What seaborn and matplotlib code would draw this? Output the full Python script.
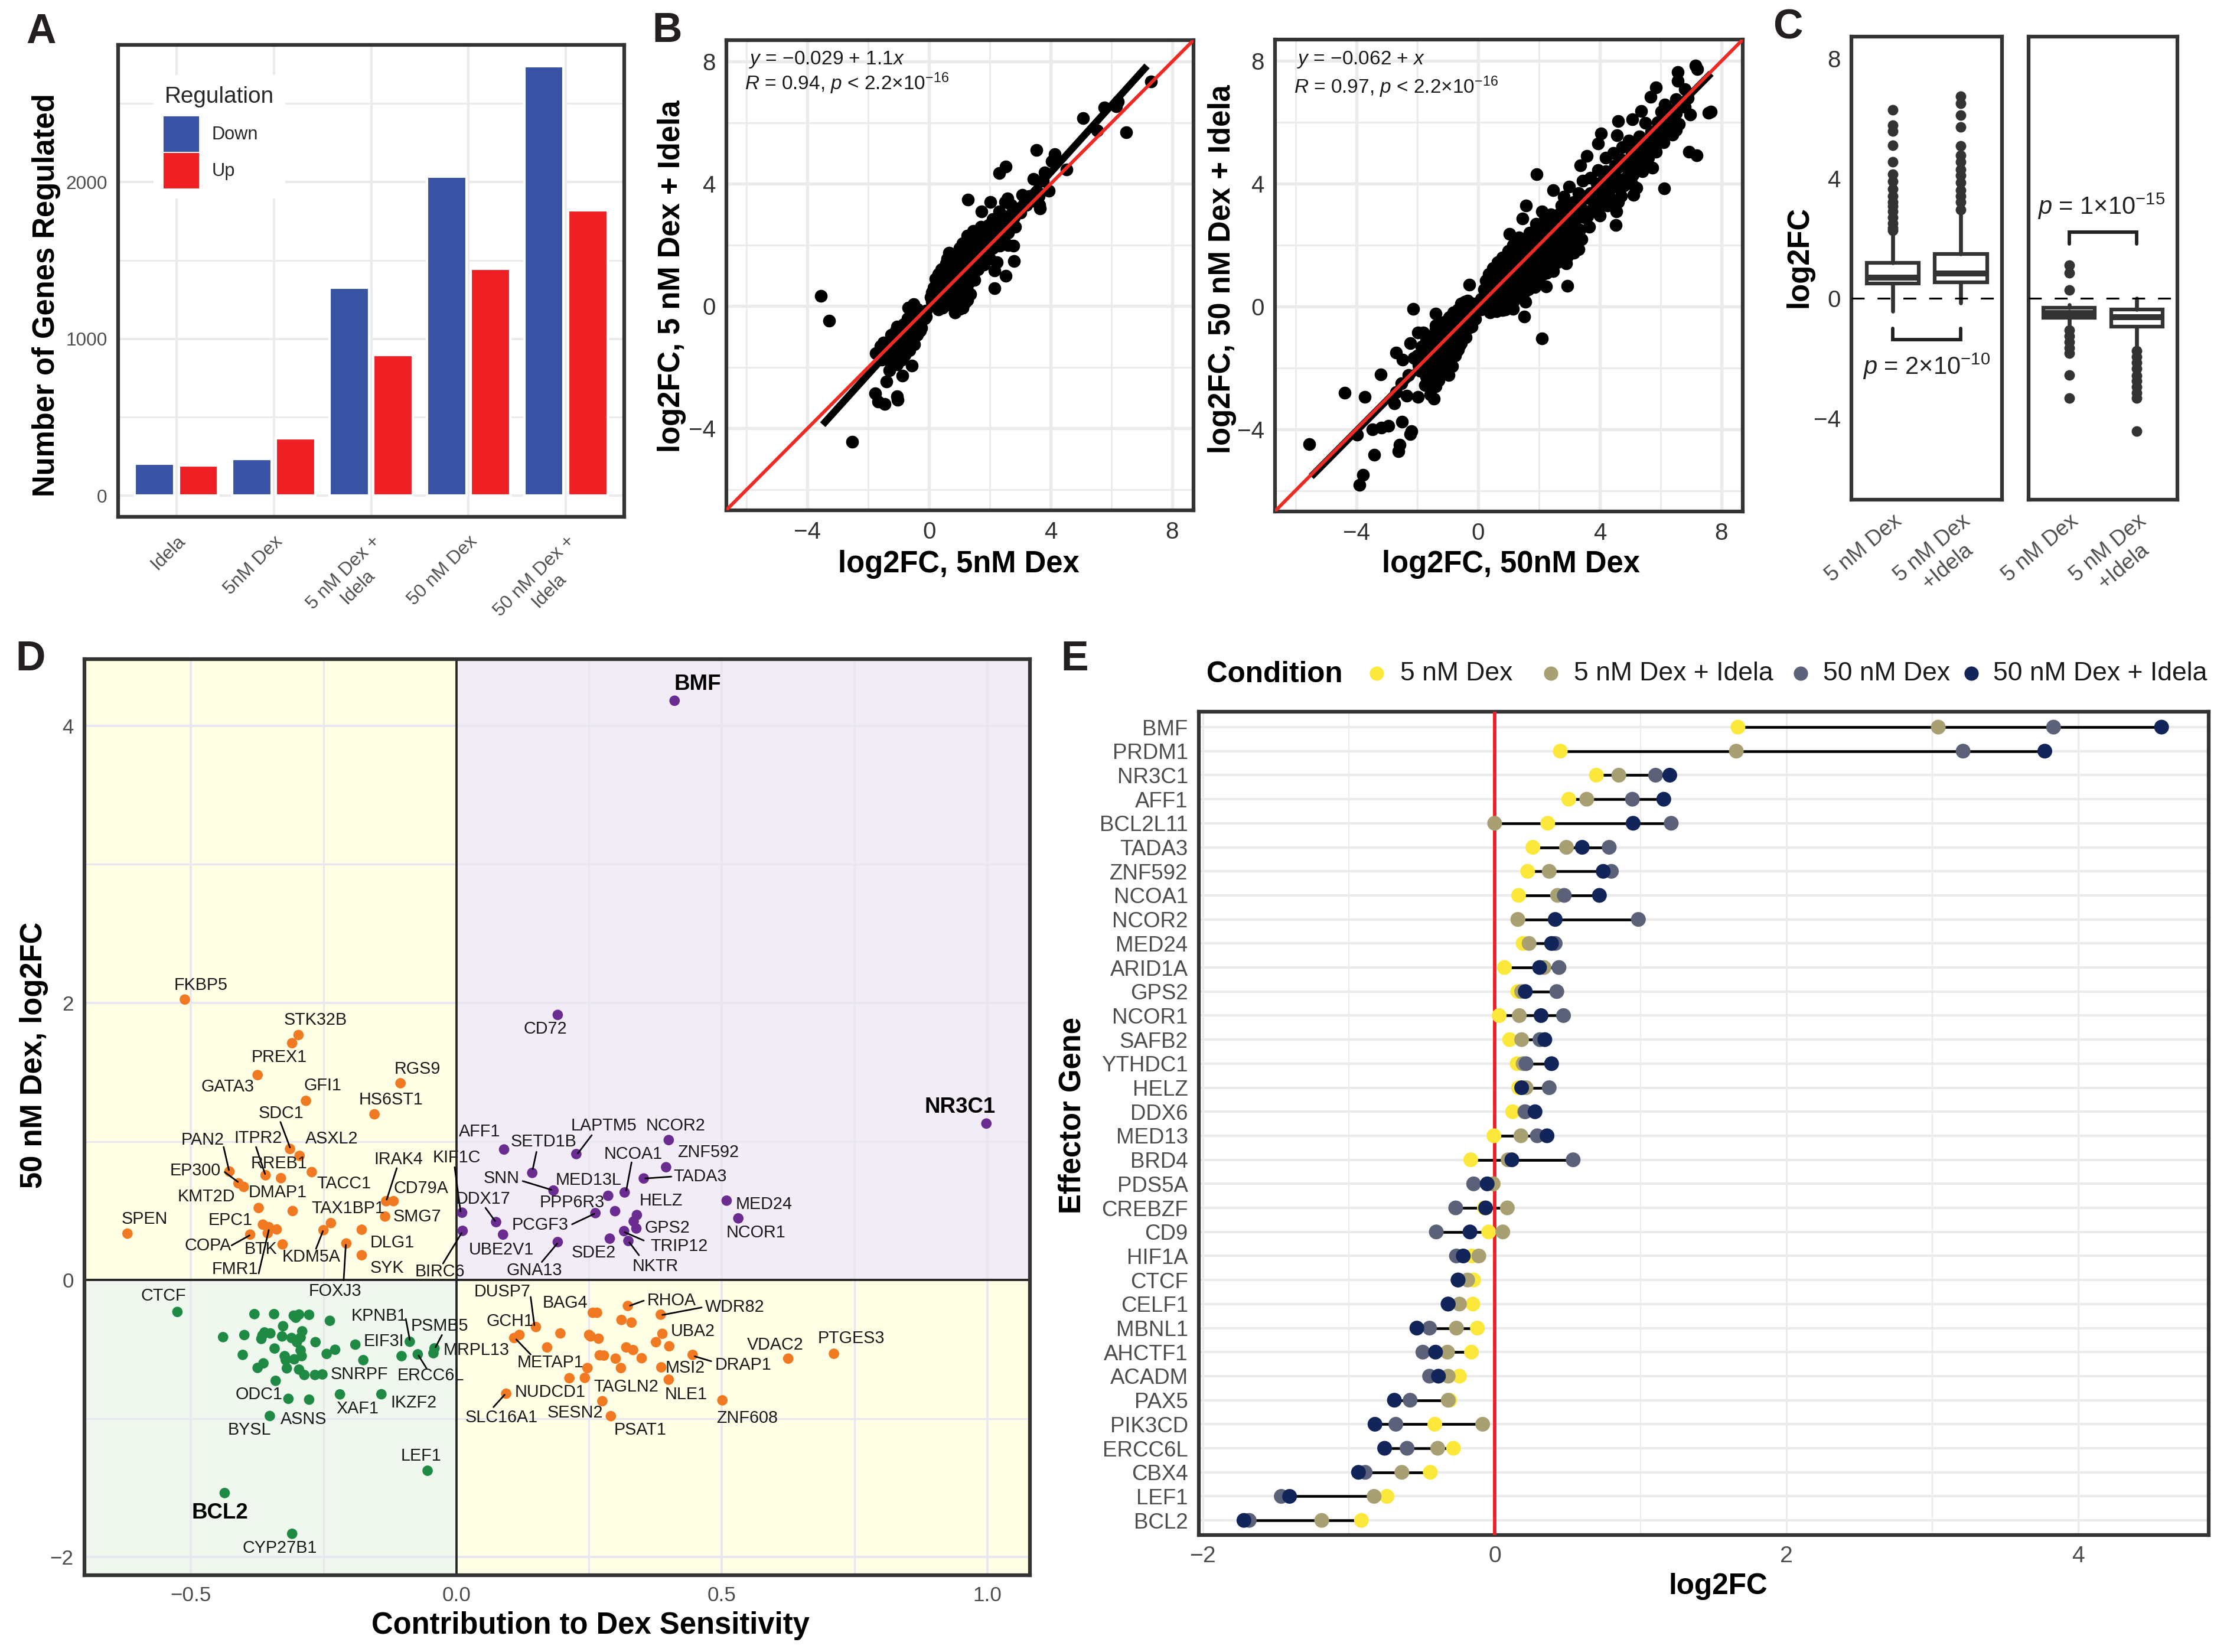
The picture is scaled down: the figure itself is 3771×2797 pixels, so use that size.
import matplotlib
matplotlib.use("Agg")
import matplotlib.pyplot as plt
import numpy as np
import pandas as pd
import seaborn as sns
from matplotlib.lines import Line2D
from matplotlib.patches import Patch, Rectangle

# -------- panel A --------
a_conditions = ["Idela", "5nM Dex", "5 nM Dex +\nIdela", "50 nM Dex", "50 nM Dex +\nIdela"]
a_down = [204, 235, 1327, 2035, 2739]
a_up = [192, 366, 895, 1445, 1821]

# -------- panel B --------
b1_x = [-3.56, -3.28, -2.53, 7.3, 6.48, 5.07, 5.77, 6.16, 6.22, 5.54, 3.53, 4.14, 4.04, 4.53, 2.52, 2.3, 3.81, 3.44, 3.94,
        3.63, 3.65, 1.28, 2.02, 1.72, 2.58, 3.07, 2.83, 2.77, 2.8, 2.52, 2.15, 2.23, 2.15, 2.33,
        -1.77, -1.68, -1.47, -1.06, -1.04, -1.4, -1.31, -0.88, -0.57, -1.68, -1.49, -1.06, -0.69, -0.51, 0.3, 0.85, 1.1,
        -1.75, -1.6, -1.55, -1.5, -1.45, -1.4, -1.35, -1.3, -1.25, -1.2, -1.2, -1.15, -1.1, -1.1, -1.05, -1, -1, -1, -0.95,
        -0.9, -0.9, -0.9, -0.85, -0.8, -0.8, -0.8, -0.75, -0.7, -0.7, -0.7, -0.65, -0.6, -0.6, -0.55, -0.5, -0.5, -0.45,
        -0.4, -0.4, -0.35, -0.3, -0.3, -0.25, -0.2, -0.15, -0.1,
        0.05, 0.1, 0.15, 0.2, 0.2, 0.25, 0.3, 0.3, 0.35, 0.4, 0.4, 0.45, 0.45, 0.5, 0.5, 0.55, 0.55, 0.6, 0.6, 0.65, 0.65,
        0.7, 0.7, 0.75, 0.8, 0.8, 0.8, 0.85, 0.85, 0.9, 0.9, 0.95, 1, 1, 1, 1.05, 1.05, 1.1, 1.1, 1.1, 1.15, 1.2, 1.2, 1.25,
        1.25, 1.3, 1.3, 1.35, 1.35, 1.4, 1.45, 1.5, 1.5, 1.55, 1.6, 1.65, 1.7, 1.7, 1.8, 1.85, 1.9, 1.95, 2.0, 2.05, 2.1,
        2.2, 2.25, 2.3, 2.4, 2.45, 2.5, 2.6, 2.6, 2.7, 2.8, 2.6, 2.9, 3.1, 3.3, 3.55,
        -1.65, -1.4, -1.3, -1.15, -1.05, -1.05, -0.95, -0.85, -0.85, -0.75, -0.7, -0.65, -0.55, -0.55, -0.45, -0.35, -0.35,
        -0.25, -0.2, -0.1,
        0.1, 0.15, 0.25, 0.3, 0.35, 0.4, 0.4, 0.45, 0.5, 0.55, 0.55, 0.6, 0.6, 0.65, 0.7, 0.7, 0.75, 0.75, 0.8, 0.85, 0.85,
        0.9, 0.9, 0.95, 0.95, 1, 1, 1.05, 1.05, 1.1, 1.1, 1.15, 1.15, 1.2, 1.2, 1.25, 1.25, 1.3, 1.35, 1.35, 1.4, 1.4, 1.45,
        1.5, 1.55, 1.6, 1.6, 1.7, 1.75, 1.8, 1.9, 2.0, 2.1, 2.15, 2.3, 2.4, 2.5, 2.7, 3.0, 3.2, 3.4, 3.6, 3.75]
b1_y = [0.33, -0.47, -4.44, 7.35, 5.69, 6.14, 6.5, 6.54, 6.7, 5.74, 5.11, 4.98, 4.73, 4.47, 4.56, 4.36, 4.38, 4.16, 3.77,
        3.31, 3.2, 3.48, 3.4, 3.09, 3.52, 3.64, 2.59, 1.98, 1.48, 0.99, 1.17, 1.44, 0.58, 1.98,
        -2.86, -3.12, -3.21, -2.96, -3.06, -2.47, -2.1, -2.28, -1.94, -1.52, -1.23, -0.68, -0.06, 0.06, -0.12, -0.21, -0.06,
        -1.55, -1.3, -1.75, -1.2, -1.45, -1.7, -1.2, -1.5, -0.95, -1.3, -1.7, -1.05, -1.45, -0.8, -1.9, -1.15, -1.6, -0.75, -1.4,
        -0.95, -1.2, -1.75, -0.6, -1.0, -1.4, -1.6, -0.75, -1.2, -0.4, -0.95, -1.45, -0.6, -1.0, -0.3, -0.8, -1.25, -0.5,
        -0.95, -0.1, -0.6, -0.3, -0.8, -0.5, -0.2, -0.4, -0.15,
        0.3, 0.15, 0.6, 0.3, 0.9, 0.05, 0.5, 1.05, 0.2, 0.75, 1.2, -0.05, 0.45, 1.0, 0.25, 1.4, 0.65, 0.05, 1.2, 0.4, 1.75,
        0.85, 1.5, 0.2, 1.15, 0.6, 1.7, -0.2, 0.35, 0.95, 1.45, 0.05, 0.6, 1.25, 1.9, 0.25, 1.6, -0.05, 0.9, 2.05, 0.45, 1.3, 1.75, 0.2,
        2.3, 0.75, 1.5, 0.4, 2.0, 1.1, 2.45, 0.85, 1.7, 2.2, 1.2, 1.5, 2.0, 2.6, 1.35, 1.75, 2.3, 2.65, 1.55, 2.1, 2.85,
        2.45, 2.0, 3.1, 2.7, 2.2, 3.4, 2.95, 2.4, 3.3, 2.9, 2.0, 3.2, 3.3, 3.6, 3.75,
        -1.6, -1.3, -1.8, -1.5, -1.3, -0.95, -1.7, -1.45, -1.1, -1.1, -0.7, -1.1, -0.55, -1.05, -0.8, -0.35, -0.85,
        -0.7, -0.35, -0.35,
        0.45, 0.2, 0.7, 0.25, 0.85, 0.05, 0.45, 1.05, 0.6, 0.1, 0.9, 0.4, 1.55, 1.05, 0.15, 0.6, 1.3, 1.65, 0.35, 0.8, 1.5,
        0.2, 1.2, 0.55, 1.7, 0.9, -0.1, 1.4, 0.45, 1.15, 1.8, 0.7, 1.5, 0.15, 1.0, 1.95, 0.5, 1.25, 0.85, 1.65, 1.4, 2.2, 1.0,
        1.9, 1.4, 1.75, 2.3, 1.35, 1.7, 2.2, 1.85, 2.4, 1.9, 2.3, 2.55, 2.95, 2.6, 2.7, 3.05, 3.3, 3.45, 3.6, 4.1]
b1_fit_x = [-3.5, 7.17]

b2_x = [-5.54, -4.38, -3.72, -3.19, -2.69, -2.48, -2.12, -1.39, -0.28, -3.9, -3.78, -3.4, -2.61, -2.57, -2.22, -2.18, -2.49,
        -2.95, -3.17, -3.46, -3.97, -2.75, -2.69, -2.34, -1.98, -1.45, -1.57, -1.39, -1.74, -2.51, -2.28, -0.97, -0.91, -2.22,
        -1.98, -1.8, -2.1, -1.39,
        -2.0, -1.9, -1.85, -1.8, -1.7, -1.7, -1.65, -1.6, -1.55, -1.5, -1.5, -1.5, -1.45, -1.4, -1.4, -1.35, -1.3, -1.3, -1.25,
        -1.25, -1.2, -1.2, -1.15, -1.1, -1.1, -1.1, -1.05, -1, -1, -1, -0.95, -0.95, -0.9, -0.85, -0.85, -0.85, -0.8, -0.8,
        -0.75, -0.75, -0.7, -0.7, -0.65, -0.65, -0.6, -0.6, -0.55, -0.55, -0.5, -0.5, -0.45, -0.4, -0.4, -0.4, -0.35, -0.3, -0.3,
        -0.25, -0.2, -0.2, -0.15, -0.1, -0.1, -0.05,
        7.15, 7.21, 6.56, 6.56, 6.8, 5.85, 5.67, 6.97, 7.57, 7.65, 6.94, 7.19, 6.11, 5.37, 5.08, 5.49, 4.6, 4.05, 4.57, 3.95, 4.96,
        3.57, 3.36, 1.93, 2.47, 3.0, 1.58, 1.46, 2.11, 1.04, 2.82, 5.73, 5.55, 5.31, 5.85, 5.2, 5.11, 4.6, 4.54, 4.52, 4.01, 3.59,
        4.25, 3.3, 2.94, 2.94, 2.23, 1.52, 1.55, 2.11, 1.16, 0.81, 0.39, 2.47, 1.87, 6.26, 6.38, 6.03, 6.14, 6.5, 5.91,
        0.1, 0.15, 0.2, 0.25, 0.3, 0.3, 0.35, 0.4, 0.45, 0.5, 0.5, 0.55, 0.6, 0.6, 0.65, 0.7, 0.75, 0.75, 0.8, 0.85, 0.9, 0.9, 0.95,
        1, 1, 1, 1.05, 1.1, 1.15, 1.15, 1.2, 1.25, 1.3, 1.3, 1.35, 1.4, 1.45, 1.5, 1.5, 1.55, 1.6, 1.65, 1.7, 1.75, 1.8, 1.85, 1.9,
        1.95, 2, 2, 2.05, 2.15, 2.2, 2.25, 2.3, 2.35, 2.4, 2.5, 2.5, 2.55, 2.6, 2.7, 2.75, 2.8, 2.85, 2.9, 3, 3.05, 3.1, 3.15, 3.2,
        3.25, 3.3, 3.35, 3.4, 3.45, 3.5, 3.6, 3.7, 3.75, 3.85, 3.95, 4.05, 4.1, 4.2, 4.3, 4.35, 4.45, 4.55, 4.6, 4.7, 4.75, 4.85,
        4.9, 5, 5.05, 5.15, 5.25, 5.3, 5.4, 5.5, 5.6, 5.7, 5.8, 5.9, 6, 6.1, 6.2, 6.3, 6.4, 6.5, 6.6, 6.7, 6.9,
        -1.95, -1.8, -1.75, -1.6, -1.55, -1.4, -1.35, -1.25, -1.2, -1.15, -1.05, -1, -0.95, -0.9, -0.9, -0.8, -0.75, -0.7, -0.65,
        -0.6, -0.6, -0.55, -0.5, -0.5, -0.45, -0.4, -0.35, -0.3, -0.25, -0.2, -0.15,
        0.05, 0.1, 0.2, 0.25, 0.35, 0.35, 0.4, 0.45, 0.5, 0.55, 0.6, 0.65, 0.7, 0.7, 0.75, 0.8, 0.85, 0.85, 0.9, 0.95, 0.95, 1,
        1.05, 1.05, 1.1, 1.1, 1.15, 1.2, 1.2, 1.25, 1.3, 1.35, 1.35, 1.4, 1.4, 1.45, 1.5, 1.55, 1.6, 1.6, 1.65, 1.7, 1.75, 1.8,
        1.85, 1.9, 1.95, 2, 2.05, 2.1, 2.15, 2.2, 2.3, 2.35, 2.4, 2.45, 2.55, 2.6, 2.65, 2.7, 2.8, 2.85, 2.95, 3, 3.05, 3.15, 3.2,
        3.3, 3.4, 3.45, 3.55, 3.65, 3.7, 3.8, 3.9, 4, 4.1, 4.2, 4.3, 4.4, 4.5, 4.55, 4.7, 4.8, 4.95, 5.05, 5.1, 5.25, 5.35, 5.5,
        5.6, 5.75, 5.85, 6, 6.1, 6.25, 6.4, 6.5, 6.6, 6.8]
b2_y = [-4.48, -2.81, -2.94, -2.21, -1.5, -1.73, -0.08, -0.24, 0.71, -5.81, -5.49, -4.83, -4.72, -4.51, -4.15, -4.07, -3.75,
        -3.88, -3.94, -4.0, -4.18, -3.15, -2.8, -2.91, -2.94, -3.0, -2.86, -2.6, -2.56, -2.5, -2.24, -2.24, -1.97, -1.2,
        -0.85, -0.85, -1.68, -0.61,
        -1.6, -2.1, -1.3, -1.75, -2.3, -1.1, -1.5, -2.0, -2.5, -0.95, -1.3, -1.75, -2.2, -0.75, -1.5, -1.1, -1.95, -2.4, -0.6,
        -1.35, -1.7, -0.95, -2.15, -0.5, -1.25, -1.55, -1.9, -0.75, -1.1, -2.1, -0.35, -1.4, -1.7, -0.6, -1.0, -1.95, -0.2, -1.3,
        -0.85, -1.6, -0.4, -1.1, -0.1, -1.4, -0.65, -0.95, 0.1, -1.2, -0.35, -0.75, 0.15, -0.15, -1.0, -0.55, 0.2, -0.3, -0.7,
        0.05, -0.15, -0.5, 0.1, -0.2, -0.4, -0.1,
        7.86, 7.74, 7.65, 7.35, 7.09, 7.15, 6.84, 6.25, 6.32, 6.35, 5.05, 4.93, 3.85, 6.37, 6.11, 5.99, 6.05, 5.64, 5.58, 5.31, 5.4,
        4.91, 4.6, 4.31, 3.79, 3.91, 3.3, 2.87, 3.1, 2.37, 3.58, 4.52, 4.76, 4.58, 5.05, 3.87, 3.63, 3.4, 3.1, 2.65, 2.96, 2.95,
        3.3, 1.86, 1.63, 0.68, 0.65, -0.32, 0.15, -1.04, -0.08, -0.12, -0.2, 1.16, 0.63, 5.99, 5.76, 6.35, 6.58, 6.76, 5.4,
        0.25, 0.05, 0.55, 0.85, -0.1, 0.3, 1.05, 0.6, 0.1, 0.9, 1.25, 0.35, -0.15, 0.7, 1.45, 1.05, 0.2, 0.5, 1.6, 0.85, 1.3, -0.1, 0.4,
        1.1, 1.8, 0.7, 0.1, 1.45, 2.0, 0.9, 0.35, 1.2, 1.75, 0.65, 2.25, 1.0, 1.5, 0.45, 2.15, 1.25, 0.8, 1.85, 2.4, 1.45, 1.05, 2.1, 2.7,
        1.6, 0.95, 2.35, 1.3, 2.0, 2.85, 1.1, 1.65, 2.5, 3.0, 1.4, 2.15, 2.9, 1.75, 2.5, 3.3, 1.95, 2.95, 1.4, 2.3, 3.35, 2.7, 1.75, 3.1,
        2.1, 3.7, 2.5, 3.2, 4.1, 2.9, 3.55, 4.2, 3.1, 3.75, 4.45, 3.5, 4.1, 4.85, 3.7, 4.3, 5.0, 3.9, 4.55, 3.6, 5.2, 4.2,
        4.75, 5.3, 4.0, 4.6, 5.05, 5.55, 4.4, 5.15, 4.85, 5.7, 5.3, 6.0, 5.55, 6.25, 5.7, 6.4, 6.1, 5.75, 6.5, 6.6, 6.8,
        -1.9, -1.4, -2.0, -1.65, -1.15, -1.9, -1.35, -1.75, -1.2, -0.8, -1.3, -1.75, -0.95, -1.3, -0.6, -0.75, -1.15, -1.45, -0.6,
        -0.3, -1.25, -0.85, -0.15, -1.0, -0.4, -0.75, -0.1, -0.5, -0.25, -0.65, -0.3,
        0.1, -0.1, 0.15, 0.45, 0.7, 0.0, 0.3, 0.9, 0.55, 1.1, 0.3, 0.85, 0.5, 1.3, 0.05, 0.75, 1.15, 0.3, 0.6, 1.5, 0.95, 0.15,
        1.25, 0.5, 0.85, 1.65, 0.15, 1.4, 0.6, 1.85, 1.05, 0.35, 1.45, 0.75, 2.1, 1.15, 1.75, 0.9, 1.45, 2.2, 0.55, 1.15, 1.85, 1.45,
        0.85, 2.3, 1.25, 1.85, 2.6, 1.55, 1.05, 2.3, 1.95, 1.35, 2.7, 1.75, 2.35, 1.45, 3.0, 2.0, 2.7, 2.25, 3.1, 1.95, 2.6, 3.4, 2.4,
        2.9, 2.2, 3.6, 3.1, 2.6, 3.7, 3.35, 4.0, 3.3, 3.75, 4.4, 4.05, 3.45, 4.6, 4.2, 4.8, 3.95, 4.45, 5.0, 4.3, 4.75, 5.3, 4.6,
        5.45, 5.05, 5.6, 5.9, 5.35, 6.15, 5.6, 6.3, 5.95, 6.5]
b2_fit_x = [-5.48, 7.66]

# -------- panel C --------
c_ticklabels = ["5 nM Dex", "5 nM Dex\n+Idela"]
c1_q1 = [0.5, 0.53]
c1_med = [0.69, 0.82]
c1_q3 = [1.19, 1.47]
c1_lo = [-0.44, -0.15]
c1_hi = [2.2, 2.82]
c1_fliers = [[6.27, 5.77, 5.58, 5.1, 4.55, 4.14, 3.9, 3.65, 3.4, 3.2, 3.07, 2.89, 2.7, 2.5, 2.35, 2.26],
             [6.74, 6.49, 6.11, 5.71, 5.08, 4.77, 4.55, 4.3, 4.1, 3.85, 3.6, 3.4, 3.2, 2.95]]
c2_q1 = [-0.65, -0.94]
c2_med = [-0.5, -0.63]
c2_q3 = [-0.31, -0.38]
c2_lo = [-0.88, -1.69]
c2_hi = [-0.21, 0.0]
c2_fliers = [[1.1, 0.84, 0.28, -1.07, -1.25, -1.45, -1.65, -1.82, -2.55, -3.32],
             [-1.76, -1.95, -2.15, -2.35, -2.57, -2.76, -2.95, -3.15, -3.32, -4.43]]

# -------- panel D --------
d_ul_x = [-0.511, -0.297, -0.309, -0.374, -0.105, -0.283, -0.154, -0.313, -0.295, -0.272, -0.33, -0.359, -0.427, -0.41,
          -0.40, -0.372, -0.308, -0.132, -0.118, -0.134, -0.236, -0.25, -0.178, -0.207, -0.178, -0.327, -0.364, -0.353,
          -0.338, -0.355, -0.388, -0.619]
d_ul_y = [2.024, 1.768, 1.709, 1.479, 1.42, 1.293, 1.196, 0.946, 0.896, 0.779, 0.735, 0.756, 0.783, 0.698,
          0.672, 0.52, 0.498, 0.569, 0.569, 0.458, 0.411, 0.36, 0.363, 0.264, 0.179, 0.257, 0.40, 0.382,
          0.365, 0.338, 0.328, 0.335]
d_ll_x = [-0.525, -0.38, -0.343, -0.306, -0.296, -0.302, -0.277, -0.238, -0.326, -0.29, -0.361, -0.35, -0.365, -0.367,
          -0.399, -0.439, -0.328, -0.31, -0.293, -0.30, -0.265, -0.19, -0.0875, -0.228, -0.244, -0.342, -0.293, -0.291,
          -0.323, -0.321, -0.305, -0.402, -0.175, -0.103, -0.0725, -0.041, -0.043, -0.363, -0.374, -0.319, -0.296, -0.286,
          -0.266, -0.252, -0.34, -0.219, -0.141, -0.316, -0.277, -0.351, -0.054, -0.436, -0.309]
d_ll_y = [-0.23, -0.246, -0.246, -0.257, -0.249, -0.272, -0.251, -0.294, -0.333, -0.37, -0.378, -0.385, -0.40, -0.425,
          -0.397, -0.412, -0.407, -0.418, -0.415, -0.448, -0.448, -0.466, -0.445, -0.503, -0.533, -0.494, -0.507, -0.549,
          -0.549, -0.578, -0.572, -0.54, -0.578, -0.549, -0.536, -0.493, -0.528, -0.601, -0.634, -0.637, -0.646, -0.685,
          -0.685, -0.681, -0.727, -0.825, -0.824, -0.857, -0.863, -0.981, -1.376, -1.537, -1.831]
d_ur_x = [0.411, 0.191, 0.998, 0.40, 0.09, 0.226, 0.395, 0.143, 0.353, 0.183, 0.317, 0.286, 0.509, 0.299, 0.262, 0.34,
          0.334, 0.339, 0.531, 0.011, 0.075, 0.088, 0.012, 0.191, 0.289, 0.316, 0.324]
d_ur_y = [4.18, 1.913, 1.129, 1.01, 0.942, 0.909, 0.814, 0.773, 0.733, 0.646, 0.632, 0.608, 0.573, 0.497, 0.483, 0.469,
          0.423, 0.372, 0.445, 0.486, 0.418, 0.328, 0.355, 0.274, 0.299, 0.353, 0.282]
d_lr_x = [0.323, 0.385, 0.257, 0.265, 0.311, 0.33, 0.15, 0.196, 0.119, 0.109, 0.25, 0.253, 0.268, 0.388, 0.376, 0.401,
          0.171, 0.32, 0.333, 0.27, 0.278, 0.30, 0.349, 0.445, 0.625, 0.711, 0.247, 0.31, 0.386, 0.213, 0.242, 0.40,
          0.094, 0.275, 0.501, 0.291]
d_lr_y = [-0.187, -0.25, -0.236, -0.236, -0.288, -0.307, -0.339, -0.385, -0.396, -0.418, -0.396, -0.407, -0.423, -0.388,
          -0.448, -0.478, -0.486, -0.486, -0.505, -0.543, -0.545, -0.567, -0.564, -0.54, -0.567, -0.532, -0.635, -0.635,
          -0.63, -0.708, -0.706, -0.719, -0.82, -0.874, -0.868, -0.982]

d_labels = [("FKBP5", -0.481, 2.127), ("STK32B", -0.265, 1.878), ("PREX1", -0.333, 1.606), ("GATA3", -0.43, 1.393),
            ("GFI1", -0.252, 1.403), ("RGS9", -0.073, 1.523), ("HS6ST1", -0.123, 1.299), ("SDC1", -0.33, 1.201),
            ("PAN2", -0.477, 1.01), ("ITPR2", -0.373, 1.024), ("ASXL2", -0.234, 1.02), ("IRAK4", -0.109, 0.871),
            ("KIF1C", 0.001, 0.882), ("RREB1", -0.334, 0.84), ("EP300", -0.491, 0.791), ("TACC1", -0.212, 0.694),
            ("CD79A", -0.066, 0.661), ("DMAP1", -0.336, 0.633), ("KMT2D", -0.47, 0.601), ("TAX1BP1", -0.204, 0.516),
            ("SMG7", -0.073, 0.455), ("EPC1", -0.425, 0.431), ("SPEN", -0.587, 0.438), ("COPA", -0.467, 0.247),
            ("BTK", -0.368, 0.221), ("DLG1", -0.121, 0.271), ("KDM5A", -0.273, 0.169), ("FMR1", -0.417, 0.077),
            ("SYK", -0.13, 0.087), ("BIRC6", -0.031, 0.062), ("FOXJ3", -0.228, -0.082), ("CTCF", -0.551, -0.115),
            ("KPNB1", -0.146, -0.257), ("PSMB5", -0.031, -0.331), ("EIF3I", -0.136, -0.443), ("MRPL13", 0.038, -0.507),
            ("SNRPF", -0.182, -0.679), ("ERCC6L", -0.048, -0.691), ("ODC1", -0.371, -0.827), ("XAF1", -0.186, -0.928),
            ("IKZF2", -0.08, -0.885), ("ASNS", -0.287, -1.003), ("BYSL", -0.389, -1.082), ("LEF1", -0.066, -1.269),
            ("CYP27B1", -0.332, -1.933), ("CD72", 0.168, 1.813), ("AFF1", 0.044, 1.072), ("LAPTM5", 0.278, 1.113),
            ("NCOR2", 0.413, 1.113), ("SETD1B", 0.165, 0.999), ("NCOA1", 0.333, 0.909), ("ZNF592", 0.474, 0.923),
            ("TADA3", 0.459, 0.746), ("SNN", 0.085, 0.735), ("MED13L", 0.249, 0.722), ("DDX17", 0.051, 0.583),
            ("PPP6R3", 0.218, 0.559), ("HELZ", 0.385, 0.573), ("MED24", 0.579, 0.548), ("PCGF3", 0.158, 0.396),
            ("GPS2", 0.397, 0.374), ("NCOR1", 0.564, 0.342), ("TRIP12", 0.42, 0.244), ("UBE2V1", 0.085, 0.22),
            ("SDE2", 0.259, 0.198), ("NKTR", 0.375, 0.10), ("GNA13", 0.147, 0.071), ("DUSP7", 0.087, -0.084),
            ("RHOA", 0.405, -0.147), ("BAG4", 0.205, -0.166), ("WDR82", 0.524, -0.195), ("GCH1", 0.101, -0.299),
            ("UBA2", 0.445, -0.372), ("PTGES3", 0.744, -0.421), ("VDAC2", 0.601, -0.467), ("METAP1", 0.177, -0.597),
            ("DRAP1", 0.54, -0.613), ("MSI2", 0.431, -0.632), ("NUDCD1", 0.177, -0.809), ("TAGLN2", 0.32, -0.771),
            ("NLE1", 0.433, -0.825), ("SESN2", 0.224, -0.958), ("SLC16A1", 0.085, -0.99), ("ZNF608", 0.548, -0.996),
            ("PSAT1", 0.346, -1.083)]
d_bold_labels = [("BMF", 0.454, 4.30), ("NR3C1", 0.948, 1.248), ("BCL2", -0.445, -1.682)]
d_leaders = [(-0.331, 1.14, -0.313, 0.956), (-0.438, 0.96, -0.428, 0.793), (-0.377, 0.96, -0.36, 0.765),
             (-0.436, 0.779, -0.411, 0.708), (-0.112, 0.807, -0.131, 0.58), (-0.423, 0.25, -0.389, 0.322),
             (-0.372, 0.048, -0.353, 0.36), (-0.264, 0.226, -0.251, 0.353), (-0.212, -0.001, -0.208, 0.254),
             (-0.025, 0.119, 0.01, 0.339), (-0.003, 0.814, 0.008, 0.495), (-0.095, -0.281, -0.0875, -0.433),
             (-0.027, -0.397, -0.039, -0.485), (-0.071, -0.545, -0.056, -0.637), (0.255, 1.045, 0.229, 0.914),
             (0.151, 0.925, 0.144, 0.80), (0.125, 0.714, 0.179, 0.651), (0.33, 0.849, 0.32, 0.646),
             (0.405, 0.746, 0.356, 0.733), (0.055, 0.521, 0.073, 0.426), (0.218, 0.402, 0.26, 0.478),
             (0.161, 0.13, 0.19, 0.263), (0.353, 0.285, 0.317, 0.345), (0.344, 0.179, 0.326, 0.271),
             (0.14, -0.122, 0.147, -0.326), (0.353, -0.149, 0.327, -0.185), (0.462, -0.198, 0.388, -0.252),
             (0.14, -0.537, 0.113, -0.429), (0.48, -0.586, 0.449, -0.551), (0.07, -0.917, 0.091, -0.828)]

# -------- panel E --------
e_genes = ["BMF", "PRDM1", "NR3C1", "AFF1", "BCL2L11", "TADA3", "ZNF592", "NCOA1", "NCOR2", "MED24", "ARID1A", "GPS2",
           "NCOR1", "SAFB2", "YTHDC1", "HELZ", "DDX6", "MED13", "BRD4", "PDS5A", "CREBZF", "CD9", "HIF1A", "CTCF",
           "CELF1", "MBNL1", "AHCTF1", "ACADM", "PAX5", "PIK3CD", "ERCC6L", "CBX4", "LEF1", "BCL2"]
e_5 = [1.667, 0.45, 0.697, 0.508, 0.364, 0.262, 0.226, 0.164, 0.159, 0.195, 0.067, 0.159, 0.031, 0.103, 0.154, 0.164,
       0.123, -0.005, -0.164, -0.01, -0.07, -0.041, -0.154, -0.144, -0.149, -0.118, -0.159, -0.241, -0.308, -0.41,
       -0.282, -0.441, -0.738, -0.913]
e_5i = [3.04, 1.656, 0.851, 0.631, 0.0, 0.492, 0.374, 0.431, 0.159, 0.236, 0.338, 0.185, 0.169, 0.185, 0.195, 0.215,
        0.205, 0.18, 0.092, -0.01, 0.087, 0.056, -0.108, -0.185, -0.241, -0.262, -0.323, -0.318, -0.318, -0.082,
        -0.39, -0.636, -0.826, -1.185]
e_50 = [3.83, 3.21, 1.103, 0.944, 1.21, 0.785, 0.80, 0.477, 0.985, 0.415, 0.441, 0.426, 0.472, 0.31, 0.215, 0.374,
        0.21, 0.292, 0.538, -0.144, -0.267, -0.40, -0.262, -0.25, -0.32, -0.446, -0.492, -0.446, -0.579, -0.677,
        -0.6, -0.887, -1.462, -1.682]
e_50i = [4.57, 3.77, 1.2, 1.159, 0.949, 0.60, 0.744, 0.718, 0.415, 0.39, 0.308, 0.21, 0.318, 0.344, 0.39, 0.185,
         0.277, 0.359, 0.118, -0.051, -0.062, -0.169, -0.215, -0.251, -0.318, -0.533, -0.405, -0.385, -0.687, -0.82,
         -0.754, -0.933, -1.405, -1.718]
e_conditions = ["5 nM Dex", "5 nM Dex + Idela", "50 nM Dex", "50 nM Dex + Idela"]

# -------- styling --------
W, H = 3771, 2797
DARK = "#333333"
TICK = "#4D4D4D"
GRID = "#EBEBEB"
RED = "#EE2024"
E_COLORS = ["#FBE83A", "#A89F72", "#5A6178", "#12255A"]

sns.set_theme(style="white")
plt.rcParams["font.family"] = ["Liberation Sans", "DejaVu Sans"]
plt.rcParams["mathtext.fontset"] = "custom"
plt.rcParams["mathtext.rm"] = "Liberation Sans"
plt.rcParams["mathtext.it"] = "Liberation Sans:italic"
plt.rcParams["mathtext.bf"] = "Liberation Sans:bold"

fig = plt.figure(figsize=(W / 300, H / 300), dpi=300, facecolor="white")


def axes_px(left, top, right, bottom):
    ax = fig.add_axes([left / W, 1 - bottom / H, (right - left) / W, (bottom - top) / H])
    for spine in ax.spines.values():
        spine.set_linewidth(1.5)
        spine.set_color(DARK)
    ax.tick_params(length=2.4, width=1.1, color=DARK, labelcolor=TICK, pad=2)
    ax.set_xlabel("")
    ax.set_ylabel("")
    return ax


def text_px(x, y, s, **kw):
    kw.setdefault("ha", "center")
    kw.setdefault("va", "center")
    kw.setdefault("color", "black")
    fig.text(x / W, 1 - y / H, s, **kw)


def bold_label(x, y, s, rotation=0, size=12.2):
    # the box of the text includes the descender, nudge it onto the glyphs
    if rotation:
        x += 5
    else:
        y += 3
    text_px(x, y, s, fontweight="bold", fontsize=size, rotation=rotation)


# -------- A: bars --------
ax = axes_px(200, 76, 1057, 875)
a_df = pd.DataFrame({
    "condition": a_conditions * 2,
    "count": a_down + a_up,
    "Regulation": ["Down"] * 5 + ["Up"] * 5,
})
sns.barplot(data=a_df, x="condition", y="count", hue="Regulation", hue_order=["Down", "Up"],
            palette={"Down": "#3953A4", "Up": RED}, order=a_conditions, width=0.9, gap=0.1,
            saturation=1, legend=False, ax=ax)
ax.set_xlim(-0.6, 4.6)
ax.set_ylim(-135, 2874)
ax.set_yticks([0, 1000, 2000])
ax.set_yticks([500, 1500, 2500], minor=True)
ax.tick_params(which="minor", length=0)
ax.set_axisbelow(True)
ax.grid(which="major", color=GRID, lw=1.0)
ax.grid(which="minor", color=GRID, lw=0.7)
ax.set_xlabel("")
ax.set_ylabel("")
ax.tick_params(axis="y", labelsize=7.6)
ax.tick_params(axis="x", pad=4)
ax.set_xticks(range(5))
ax.set_xticklabels(a_conditions, rotation=45, ha="right", va="top", rotation_mode="anchor",
                   fontsize=7.6, multialignment="center")
leg = ax.legend(handles=[Patch(color="#3953A4", label="Down"), Patch(color=RED, label="Up")],
                title="Regulation", loc="upper left", bbox_to_anchor=(0.07, 0.936), borderaxespad=0,
                frameon=True, facecolor="white", edgecolor="none", framealpha=1, fancybox=False,
                fontsize=7.4, title_fontsize=9.3, handlelength=1.82, handleheight=2.41, labelspacing=0.2,
                handletextpad=0.77, borderpad=0.62)
leg._legend_box.align = "left"
leg._legend_box.sep = 4
bold_label(74, 500, "Number of Genes Regulated", rotation=90)


# -------- B: scatter panels --------
def scatter_panel(box, xs, ys, fit_x, intercept, slope, eq, stats, eq_pos, stats_pos):
    ax = axes_px(*box)
    sns.scatterplot(x=xs, y=ys, color="black", s=27, linewidth=0, ax=ax, zorder=3)
    fit_y = [intercept + slope * v for v in fit_x]
    ax.plot(fit_x, fit_y, color="black", lw=2.9, solid_capstyle="butt", zorder=4)
    ax.axline((0, 0), slope=1, color="#EE2A24", lw=1.4, zorder=5)
    ax.set_xlim(-6.67, 8.7)
    ax.set_ylim(-6.68, 8.7)
    ax.set_xticks([-4, 0, 4, 8])
    ax.set_yticks([-4, 0, 4, 8])
    ax.set_xticks([-6, -2, 2, 6], minor=True)
    ax.set_yticks([-6, -2, 2, 6], minor=True)
    ax.tick_params(which="minor", length=0)
    ax.tick_params(axis="both", labelsize=9.7, labelcolor=DARK)
    ax.set_axisbelow(True)
    ax.grid(which="major", color=GRID, lw=1.3)
    ax.grid(which="minor", color=GRID, lw=0.7)
    ax.text(*eq_pos, eq, fontsize=8, color="#1A1A1A", ha="left", va="center")
    ax.text(*stats_pos, stats, fontsize=8, color="#1A1A1A", ha="left", va="center")
    return ax


scatter_panel((1230, 68, 2021, 864), b1_x, b1_y, b1_fit_x, -0.029, 1.1,
              r"$\mathit{y}$ = −0.029 + 1.1$\mathit{x}$",
              r"$\mathit{R}$ = 0.94, $\mathit{p}$ < 2.2×10$^{−16}$", (-5.94, 8.06), (-6.06, 7.28))
scatter_panel((2159, 67, 2951, 866), b2_x, b2_y, b2_fit_x, -0.062, 1.0,
              r"$\mathit{y}$ = −0.062 + $\mathit{x}$",
              r"$\mathit{R}$ = 0.97, $\mathit{p}$ < 2.2×10$^{−16}$", (-5.95, 8.04), (-6.05, 7.15))
bold_label(1623, 952, "log2FC, 5nM Dex")
bold_label(1133, 468, "log2FC, 5 nM Dex + Idela", rotation=90)
bold_label(2558, 952, "log2FC, 50nM Dex")
bold_label(2064, 456, "log2FC, 50 nM Dex + Idela", rotation=90)


# -------- C: box panels --------
def box_panel(box, q1, med, q3, lo, hi, fliers, bracket, p_text, p_y, p_x, show_y):
    ax = axes_px(*box)
    stats = [{"q1": q1[i], "med": med[i], "q3": q3[i], "whislo": lo[i], "whishi": hi[i], "fliers": fliers[i]}
             for i in range(2)]
    ax.bxp(stats, positions=[0, 1], widths=0.76, patch_artist=True, showcaps=False, manage_ticks=False,
           boxprops={"facecolor": "white", "edgecolor": DARK, "linewidth": 1.5},
           medianprops={"color": DARK, "linewidth": 2.4, "solid_capstyle": "butt"},
           whiskerprops={"color": DARK, "linewidth": 1.6},
           flierprops={"marker": "o", "markerfacecolor": DARK, "markeredgecolor": DARK, "markersize": 4.3,
                       "markeredgewidth": 0})
    ax.axhline(0, color="black", lw=0.75, dashes=(7, 7), zorder=6)
    ax.plot([0, 0, 1, 1], bracket, color="#222222", lw=1.4, solid_joinstyle="miter")
    ax.text(p_x, p_y, p_text, fontsize=10, color="#222222", ha="center", va="center")
    ax.set_xlim(-0.6, 1.6)
    ax.set_ylim(-6.71, 8.72)
    ax.set_yticks([-4, 0, 4, 8])
    ax.tick_params(axis="y", labelsize=9.7, labelcolor=DARK, labelleft=show_y)
    ax.set_xticks([0, 1])
    ax.set_xticklabels(c_ticklabels, rotation=40, ha="right", va="top", rotation_mode="anchor", fontsize=8.8,
                       multialignment="center")
    return ax


box_panel((3135, 62, 3390, 846), c1_q1, c1_med, c1_q3, c1_lo, c1_hi, c1_fliers, [-1.0, -1.38, -1.38, -1.0],
          r"$\mathit{p}$ = 2×10$^{−10}$", -2.26, 0.5, True)
box_panel((3435, 62, 3687, 846), c2_q1, c2_med, c2_q3, c2_lo, c2_hi, c2_fliers, [1.82, 2.2, 2.2, 1.82],
          r"$\mathit{p}$ = 1×10$^{−15}$", 3.07, 0.474, False)
bold_label(3042, 435, "log2FC", rotation=90)

# -------- D: quadrant scatter --------
ax = axes_px(143, 1116, 1744, 2667)
XL, XR, YB, YT = -0.70, 1.08, -2.13, 4.48
ax.add_patch(Rectangle((XL, 0), -XL, YT, color="#FFFFE5", lw=0, zorder=0))
ax.add_patch(Rectangle((0, 0), XR, YT, color="#F1ECF5", lw=0, zorder=0))
ax.add_patch(Rectangle((XL, YB), -XL, -YB, color="#EFF7EE", lw=0, zorder=0))
ax.add_patch(Rectangle((0, YB), XR, -YB, color="#FFFFE5", lw=0, zorder=0))
d_df = pd.concat([
    pd.DataFrame({"x": d_ul_x, "y": d_ul_y, "group": "ul"}),
    pd.DataFrame({"x": d_lr_x, "y": d_lr_y, "group": "lr"}),
    pd.DataFrame({"x": d_ur_x, "y": d_ur_y, "group": "ur"}),
    pd.DataFrame({"x": d_ll_x, "y": d_ll_y, "group": "ll"}),
])
sns.scatterplot(data=d_df, x="x", y="y", hue="group",
                palette={"ul": "#F07922", "lr": "#F07922", "ur": "#6A2C91", "ll": "#1F8A44"},
                s=18, linewidth=0, legend=False, ax=ax, zorder=3)
ax.set_xlim(XL, XR)
ax.set_ylim(YB, YT)
ax.set_xlabel("")
ax.set_ylabel("")
ax.set_xticks([-0.5, 0, 0.5, 1.0])
ax.set_yticks([-2, 0, 2, 4])
ax.set_xticks([-0.25, 0.25, 0.75], minor=True)
ax.set_yticks([-1, 1, 3], minor=True)
ax.tick_params(which="minor", length=0)
ax.tick_params(axis="both", labelsize=8.4)
ax.set_axisbelow(True)
ax.grid(which="major", color="#E8E6F0", lw=0.9)
ax.grid(which="minor", color="#E8E6F0", lw=0.7)
ax.axhline(0, color="#222222", lw=0.9, zorder=2.5)
ax.axvline(0, color="#222222", lw=0.9, zorder=2.5)
for x0, y0, x1, y1 in d_leaders:
    ax.plot([x0, x1], [y0, y1], color="black", lw=0.65, zorder=4)
for name, x, y in d_labels:
    ax.text(x, y, name, fontsize=6.9, color="#1A1A1A", ha="center", va="center", zorder=5)
for name, x, y in d_bold_labels:
    ax.text(x, y, name, fontsize=8.8, fontweight="bold", color="black", ha="center", va="center", zorder=5)
bold_label(1000, 2749, "Contribution to Dex Sensitivity")
bold_label(53, 1786, "50 nM Dex, log2FC", rotation=90)

# -------- E: dumbbells --------
ax = axes_px(2030, 1205, 3740, 2599)
e_df = pd.concat([pd.DataFrame({"gene": e_genes, "log2fc": vals, "condition": cond})
                  for cond, vals in zip(e_conditions, [e_5, e_5i, e_50, e_50i])])
sns.scatterplot(data=e_df, x="log2fc", y="gene", hue="condition", palette=dict(zip(e_conditions, E_COLORS)),
                s=36, linewidth=0, legend=False, ax=ax, zorder=4)
e_wide = np.array([e_5, e_5i, e_50, e_50i])
ax.hlines(e_genes, e_wide.min(axis=0), e_wide.max(axis=0), color="black", lw=1.1, zorder=3)
ax.axvline(0, color=RED, lw=1.4, zorder=3.5)
ax.set_xlim(-2.027, 4.893)
ax.set_ylim(33.61, -0.64)
ax.set_xlabel("")
ax.set_ylabel("")
ax.set_xticks([-2, 0, 2, 4])
ax.set_xticks([-1, 1, 3], minor=True)
ax.tick_params(which="minor", length=0)
ax.tick_params(axis="x", labelsize=9.4)
ax.tick_params(axis="y", labelsize=8.8)
ax.set_axisbelow(True)
ax.grid(axis="y", which="major", color=GRID, lw=1.0)
ax.grid(axis="x", which="major", color=GRID, lw=0.7)
ax.grid(axis="x", which="minor", color=GRID, lw=0.5)
bold_label(2909, 2683, "log2FC", size=11.9)
bold_label(1811, 1888, "Effector Gene", rotation=90)

# legend row of panel E sits above the axes
text_px(2043, 1142, "Condition", fontweight="bold", fontsize=11.9, ha="left")
for dot_x, text_x, color, cond in zip([2331, 2626, 3049, 3338], [2371, 2665, 3087, 3375], E_COLORS, e_conditions):
    fig.add_artist(Line2D([dot_x / W], [1 - 1140 / H], transform=fig.transFigure, marker="o", markersize=5.8,
                          markerfacecolor=color, markeredgewidth=0, linestyle="none"))
    text_px(text_x, 1141, cond, fontsize=10.7, ha="left", color="#1A1A1A")

# panel letters
for letter, x, y in [("A", 70, 55), ("B", 1130, 53), ("C", 3027, 48), ("D", 52, 1117), ("E", 1820, 1117)]:
    text_px(x, y, letter, fontweight="bold", fontsize=16.8, color="#231F20")

fig.savefig("out.png", dpi=300, facecolor="white")
